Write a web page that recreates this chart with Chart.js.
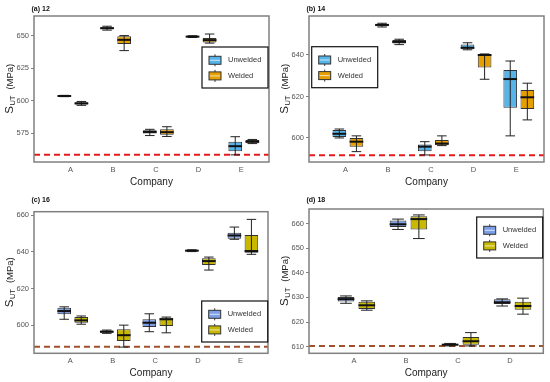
<!DOCTYPE html>
<html lang="en">
<head>
<meta charset="UTF-8">
<title>SUT by company</title>
<script src="https://cdn.jsdelivr.net/npm/chart.js"></script>
<style>
  body { margin: 0; background: #fff; }
  .grid { display: grid; grid-template-columns: 275px 275px; grid-template-rows: 191px 191px; width: 550px; height: 382px; }
  canvas { display: block; }
</style>
</head>
<body>
<div class="grid">
  <canvas id="p12" width="275" height="191"></canvas>
  <canvas id="p14" width="275" height="191"></canvas>
  <canvas id="p16" width="275" height="191"></canvas>
  <canvas id="p18" width="275" height="191"></canvas>
</div>
<script>
// box stats per company: [min, q1, median, q3, max]
const companies5 = ['A', 'B', 'C', 'D', 'E'];
const companies4 = ['A', 'B', 'C', 'D'];

const unwelded12 = [[603.2, 603.4, 603.7, 604.0, 604.2], [654.5, 655.2, 656.0, 656.8, 657.5], [573.2, 574.8, 576.0, 577.3, 578.0], [648.8, 649.1, 649.5, 649.9, 650.2], [558.3, 561.0, 565.0, 568.5, 572.3]];
const welded12 = [[596.5, 597.2, 598.0, 598.8, 599.5], [638.7, 643.8, 647.0, 649.8, 650.3], [572.5, 573.8, 575.8, 578.0, 580.0], [644.5, 645.0, 646.8, 648.5, 651.5], [567.0, 567.3, 568.5, 569.8, 570.2]];
const limit12 = 558.3;
const yTicks12 = [575, 600, 625, 650];

const unwelded14 = [[600.0, 600.5, 602.0, 603.8, 604.3], [653.5, 653.8, 654.5, 655.0, 655.3], [591.8, 593.6, 595.8, 596.8, 598.2], [642.5, 642.8, 643.5, 645.0, 645.9], [601.0, 614.6, 628.4, 632.8, 637.1]];
const welded14 = [[593.4, 595.8, 598.2, 600.0, 601.0], [645.0, 645.5, 646.3, 647.2, 647.6], [596.3, 596.5, 597.3, 599.0, 601.0], [628.3, 634.0, 640.0, 640.3, 640.5], [608.7, 614.0, 619.6, 623.1, 626.4]];
const limit14 = 591.7;
const yTicks14 = [600, 620, 640];

const unwelded16 = [[603.2, 605.9, 607.7, 609.5, 610.0], [595.5, 595.8, 596.4, 597.0, 597.3], [596.4, 599.0, 601.3, 603.2, 606.2], [640.2, 640.4, 640.7, 641.0, 641.2], [646.9, 647.2, 649.0, 650.5, 653.6]];
const welded16 = [[600.5, 601.3, 602.6, 604.4, 605.0], [588.0, 591.3, 594.5, 597.7, 600.0], [595.8, 599.5, 603.2, 604.1, 604.4], [630.1, 632.8, 635.0, 636.5, 637.2], [638.7, 639.6, 640.5, 649.2, 657.8]];
const limit16 = 588.2;
const yTicks16 = [600, 620, 640, 660];

const unwelded18 = [[627.6, 628.3, 629.3, 630.2, 630.6], [657.6, 658.6, 659.7, 661.2, 661.8], [610.3, 610.5, 610.8, 611.1, 611.3], [626.5, 627.3, 628.0, 629.2, 629.4]];
const welded18 = [[624.8, 625.3, 626.8, 628.2, 628.6], [653.9, 657.6, 661.8, 663.0, 663.5], [610.3, 610.8, 612.2, 613.9, 615.7], [623.2, 625.0, 626.5, 628.2, 629.7]];
const limit18 = 610.3;
const yTicks18 = [610, 620, 630, 640, 650, 660];

const FONT = 'Liberation Sans, Arial, sans-serif';

// whiskers + median on top of the floating bars
const boxPlot = {
  id: 'boxPlot',
  afterDatasetsDraw(chart) {
    const ctx = chart.ctx;
    const y = chart.scales.y;
    chart.data.datasets.forEach((ds, i) => {
      if (!ds.stats) return;
      chart.getDatasetMeta(i).data.forEach((bar, j) => {
        const s = ds.stats[j];
        const x = bar.x, w = bar.width;
        const cap = w * 0.35;
        ctx.save();
        ctx.strokeStyle = '#222';
        ctx.lineWidth = 1;
        ctx.beginPath();
        ctx.moveTo(x, y.getPixelForValue(s[0]));
        ctx.lineTo(x, y.getPixelForValue(s[4]));
        ctx.moveTo(x - cap, y.getPixelForValue(s[0]));
        ctx.lineTo(x + cap, y.getPixelForValue(s[0]));
        ctx.moveTo(x - cap, y.getPixelForValue(s[4]));
        ctx.lineTo(x + cap, y.getPixelForValue(s[4]));
        ctx.stroke();
        ctx.strokeStyle = '#111';
        ctx.lineWidth = 2;
        ctx.beginPath();
        ctx.moveTo(x - w / 2, y.getPixelForValue(s[2]));
        ctx.lineTo(x + w / 2, y.getPixelForValue(s[2]));
        ctx.stroke();
        ctx.restore();
      });
    });
  }
};

// frame, panel title, y title with subscript, legend box
const decor = {
  id: 'decor',
  afterDraw(chart, args, opts) {
    const ctx = chart.ctx;
    const a = chart.chartArea;
    ctx.save();
    ctx.strokeStyle = '#808080';
    ctx.lineWidth = 1.5;
    ctx.strokeRect(a.left, a.top, a.right - a.left, a.bottom - a.top);

    ctx.fillStyle = '#111';
    ctx.font = 'bold 7px ' + FONT;
    ctx.textBaseline = 'middle';
    ctx.textAlign = 'left';
    ctx.fillText(opts.title, 31.5, 9);

    // y title: S_UT (MPa)
    ctx.save();
    ctx.translate(9, (a.top + a.bottom) / 2);
    ctx.rotate(-Math.PI / 2);
    ctx.fillStyle = '#222';
    const fS = '11.5px ' + FONT, fSub = '7.5px ' + FONT, fU = '9.5px ' + FONT;
    ctx.font = fS; const wS = ctx.measureText('S').width;
    ctx.font = fSub; const wSub = ctx.measureText('UT').width;
    ctx.font = fU; const wU = ctx.measureText('(MPa)').width;
    const gap = 6;
    let x0 = -(wS + wSub + gap + wU) / 2;
    ctx.textBaseline = 'alphabetic';
    ctx.font = fS; ctx.fillText('S', x0, 4); x0 += wS + 0.5;
    ctx.font = fSub; ctx.fillText('UT', x0, 6); x0 += wSub + gap;
    ctx.font = fU; ctx.fillText('(MPa)', x0, 4);
    ctx.restore();

    const L = opts.legend;
    ctx.fillStyle = '#fff';
    ctx.fillRect(L.x, L.y, 66, 41);
    ctx.strokeStyle = '#111';
    ctx.lineWidth = 1.2;
    ctx.strokeRect(L.x, L.y, 66, 41);
    chart.data.datasets.filter(d => d.stats).forEach((d, i) => {
      const cy = L.y + 13.3 + i * 15.6;
      const ix = L.x + 7;
      ctx.strokeStyle = '#333';
      ctx.lineWidth = 1;
      ctx.beginPath();
      ctx.moveTo(ix + 6, cy - 6); ctx.lineTo(ix + 6, cy + 6);
      ctx.stroke();
      ctx.fillStyle = d.backgroundColor;
      ctx.fillRect(ix, cy - 4, 12, 8);
      ctx.strokeRect(ix, cy - 4, 12, 8);
      ctx.strokeStyle = 'rgba(255,255,255,0.7)';
      ctx.beginPath();
      ctx.moveTo(ix + 1, cy); ctx.lineTo(ix + 11, cy);
      ctx.stroke();
      ctx.fillStyle = '#333';
      ctx.font = '7.5px ' + FONT;
      ctx.textBaseline = 'middle';
      ctx.fillText(d.label, L.x + 26, cy);
    });
    ctx.restore();
  }
};

function makePanel(id, cats, unw, wel, limit, yTicks, p) {
  const xMin = 0.09, xMax = cats.length + 0.59;
  const boxSet = (label, stats, color) => ({
    label: label,
    stats: stats,
    data: stats.map((s, j) => ({ x: j + 1, y: [s[1], s[3]] })),
    backgroundColor: color,
    borderColor: '#333',
    borderWidth: 1,
    borderSkipped: false,
    categoryPercentage: 0.8,
    barPercentage: 0.8,
    order: 1
  });
  new Chart(document.getElementById(id), {
    type: 'bar',
    data: {
      datasets: [
        boxSet('Unwelded', unw, p.colors[0]),
        boxSet('Welded', wel, p.colors[1]),
        {
          type: 'line',
          label: 'limit',
          data: [{ x: xMin, y: limit }, { x: xMax, y: limit }],
          borderColor: p.limitColor,
          borderWidth: 2,
          borderDash: [6, 4],
          pointRadius: 0,
          order: 2
        }
      ]
    },
    options: {
      responsive: false,
      animation: false,
      layout: { padding: { left: 0, right: p.right, top: p.top, bottom: 0 } },
      scales: {
        x: {
          type: 'linear',
          offset: false,
          min: xMin,
          max: xMax,
          afterBuildTicks: s => { s.ticks = cats.map((c, i) => ({ value: i + 1 })); },
          afterFit: s => { s.height = 191 - p.bottom; },
          grid: { display: false, drawTicks: false, offset: false },
          border: { display: false },
          ticks: {
            callback: v => cats[v - 1],
            padding: 3.5,
            labelOffset: -2.5,
            maxRotation: 0,
            color: '#555',
            font: { family: FONT, size: 7.5 }
          },
          title: {
            display: true,
            text: 'Company',
            color: '#222',
            padding: { top: 0, bottom: 3 },
            font: { family: FONT, size: 10 }
          }
        },
        y: {
          min: p.yMin,
          max: p.yMax,
          offset: false,
          beginAtZero: false,
          afterBuildTicks: s => { s.ticks = yTicks.map(v => ({ value: v })); },
          afterFit: s => { s.width = 34; },
          grid: { drawOnChartArea: false, drawTicks: true, tickLength: 3, color: '#808080' },
          border: { display: false },
          ticks: {
            padding: 2,
            color: '#555',
            font: { family: FONT, size: 7.5 }
          }
        }
      },
      plugins: {
        legend: { display: false },
        tooltip: { enabled: false },
        decor: { title: p.title, legend: p.legend }
      }
    },
    plugins: [boxPlot, decor]
  });
}

const paletteA = ['#56B4E9', '#E69F00'];
const paletteB = ['#7B9EE6', '#C9B800'];

makePanel('p12', companies5, unwelded12, welded12, limit12, yTicks12,
  { title: '(a) 12', colors: paletteA, limitColor: '#E41A1C', yMin: 552.8, yMax: 665.4, top: 16, right: 6, bottom: 162, legend: { x: 202, y: 47 } });
makePanel('p14', companies5, unwelded14, welded14, limit14, yTicks14,
  { title: '(b) 14', colors: paletteA, limitColor: '#E41A1C', yMin: 588.4, yMax: 658.8, top: 16, right: 6, bottom: 162, legend: { x: 36.7, y: 46.7 } });
makePanel('p16', companies5, unwelded16, welded16, limit16, yTicks16,
  { title: '(c) 16', colors: paletteB, limitColor: '#A0522D', yMin: 584.6, yMax: 662, top: 20.7, right: 7, bottom: 162.3, legend: { x: 201.7, y: 110 } });
makePanel('p18', companies4, unwelded18, welded18, limit18, yTicks18,
  { title: '(d) 18', colors: paletteB, limitColor: '#A0522D', yMin: 607.3, yMax: 665.9, top: 18, right: 6.7, bottom: 162.3, legend: { x: 201.7, y: 26 } });
</script>
</body>
</html>
